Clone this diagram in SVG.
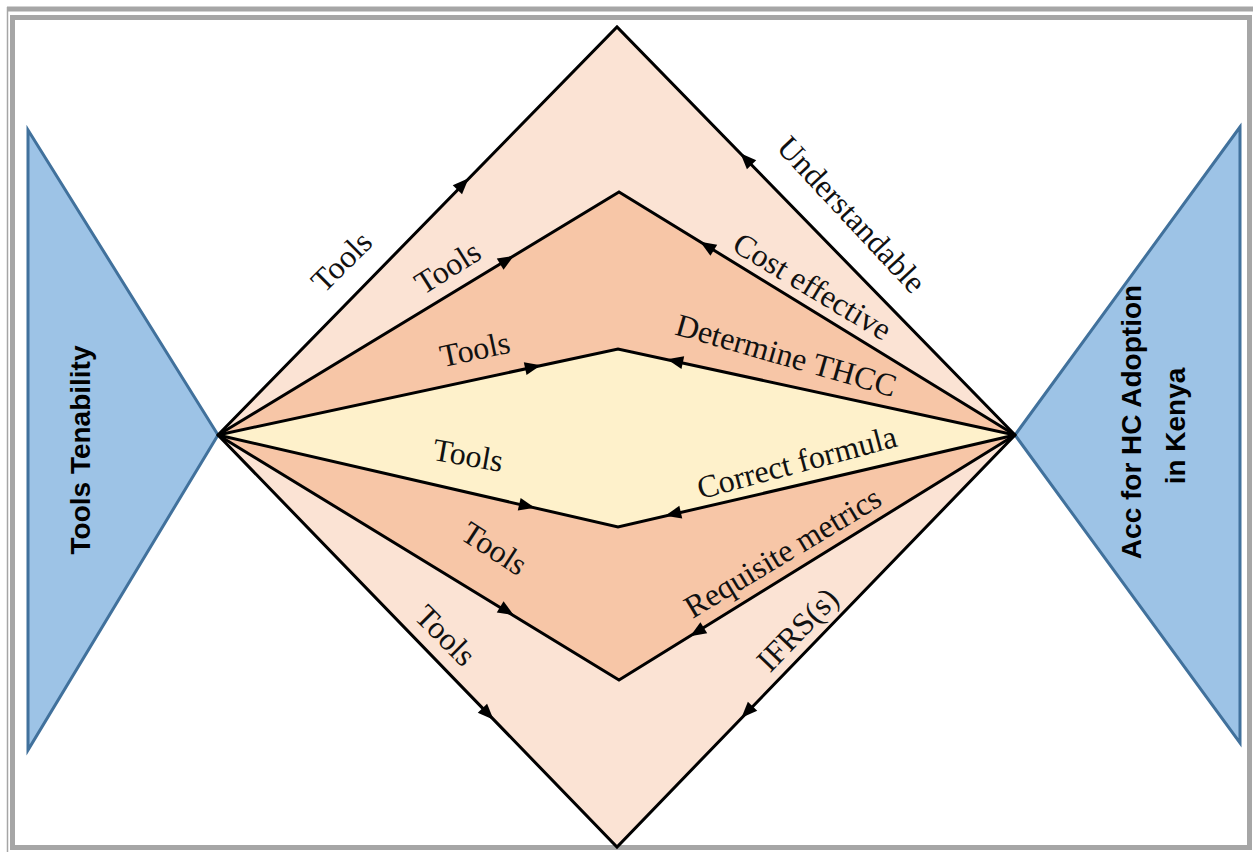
<svg xmlns="http://www.w3.org/2000/svg" xmlns:xlink="http://www.w3.org/1999/xlink" width="1253" height="852" viewBox="0 0 1253 852">
<style>
.frame{fill:none;stroke:#a6a6a6}
.tri{fill:#9dc3e6;stroke:#41719c;stroke-width:3;stroke-linejoin:miter}
.edge{fill:none;stroke:#000;stroke-width:3;stroke-linejoin:miter}
.lbl{font-family:"Liberation Serif","Times New Roman",serif;font-size:32px;fill:#111;text-anchor:middle}
.big{font-family:"Liberation Sans",Arial,sans-serif;font-size:28px;font-weight:bold;fill:#000;text-anchor:middle}
</style>
<defs>
<path id="ah" d="M8,0 L-8,-6.5 L-8,6.5 Z" fill="#000"/>
</defs>
<rect width="1253" height="852" fill="#fff"/>
<g id="frame">
<line x1="7" y1="9" x2="1253" y2="9" class="frame" stroke-width="5"/>
<line x1="7.5" y1="7" x2="7.5" y2="852" class="frame" stroke-width="1.5"/>
<rect x="12.5" y="17.5" width="1237" height="830" class="frame" stroke-width="5"/>
</g>
<g id="outer-diamond"><polygon points="218,435 617,27 1015,435 617,847" fill="#fbe3d4"/></g>
<g id="middle-diamond"><polygon points="218,435 619,192 1015,435 619,680" fill="#f7c6a7"/></g>
<g id="inner-diamond"><polygon points="218,435 618,349 1015,435 618,527" fill="#fef1cb"/></g>
<g id="tools-tenability">
<polygon class="tri" points="28,130 218,435 28,750"/>
<text class="big" transform="translate(90,450) rotate(-90)">Tools Tenability</text>
</g>
<g id="acc-hc-adoption">
<polygon class="tri" points="1240,127 1015,435 1240,743"/>
<text class="big" transform="translate(1141,422) rotate(-90)">Acc for HC Adoption</text>
<text class="big" transform="translate(1185,426) rotate(-90)">in Kenya</text>
</g>
<g id="connectors">
<polygon class="edge" points="218,435 617,27 1015,435 617,847"/>
<polyline class="edge" points="218,435 619,192 1015,435"/>
<polyline class="edge" points="218,435 619,680 1015,435"/>
<polyline class="edge" points="218,435 618,349 1015,435"/>
<polyline class="edge" points="218,435 618,527 1015,435"/>
<use xlink:href="#ah" transform="translate(463,184) rotate(-45.6)"/>
<use xlink:href="#ah" transform="translate(507,260) rotate(-31.2)"/>
<use xlink:href="#ah" transform="translate(533,367) rotate(-12.1)"/>
<use xlink:href="#ah" transform="translate(527,506) rotate(12.9)"/>
<use xlink:href="#ah" transform="translate(507,611) rotate(31.4)"/>
<use xlink:href="#ah" transform="translate(488,714) rotate(45.9)"/>
<use xlink:href="#ah" transform="translate(746,159) rotate(-134.3)"/>
<use xlink:href="#ah" transform="translate(707,246) rotate(-148.5)"/>
<use xlink:href="#ah" transform="translate(675,361) rotate(-167.8)"/>
<use xlink:href="#ah" transform="translate(673,514) rotate(167)"/>
<use xlink:href="#ah" transform="translate(697,632) rotate(148.3)"/>
<use xlink:href="#ah" transform="translate(747,712) rotate(134)"/>
</g>
<g id="labels">
<text class="lbl" transform="translate(342,262) rotate(-45)" y="10">Tools</text>
<text class="lbl" transform="translate(448,268) rotate(-32)" y="10">Tools</text>
<text class="lbl" transform="translate(475,350) rotate(-12)" y="10">Tools</text>
<text class="lbl" transform="translate(468,456) rotate(10)" y="10">Tools</text>
<text class="lbl" transform="translate(494,549) rotate(33)" y="10">Tools</text>
<text class="lbl" transform="translate(445,636) rotate(45)" y="10">Tools</text>
<text class="lbl" transform="translate(851,215) rotate(47)" y="10">Understandable</text>
<text class="lbl" transform="translate(812,287) rotate(31)" y="10">Cost effective</text>
<text class="lbl" transform="translate(786,356) rotate(16)" y="10">Determine THCC</text>
<text class="lbl" transform="translate(797,463) rotate(-15)" y="10">Correct formula</text>
<text class="lbl" transform="translate(783,553) rotate(-31)" y="10">Requisite metrics</text>
<text class="lbl" transform="translate(798,630) rotate(-46)" y="10">IFRS(s)</text>
</g>
</svg>
